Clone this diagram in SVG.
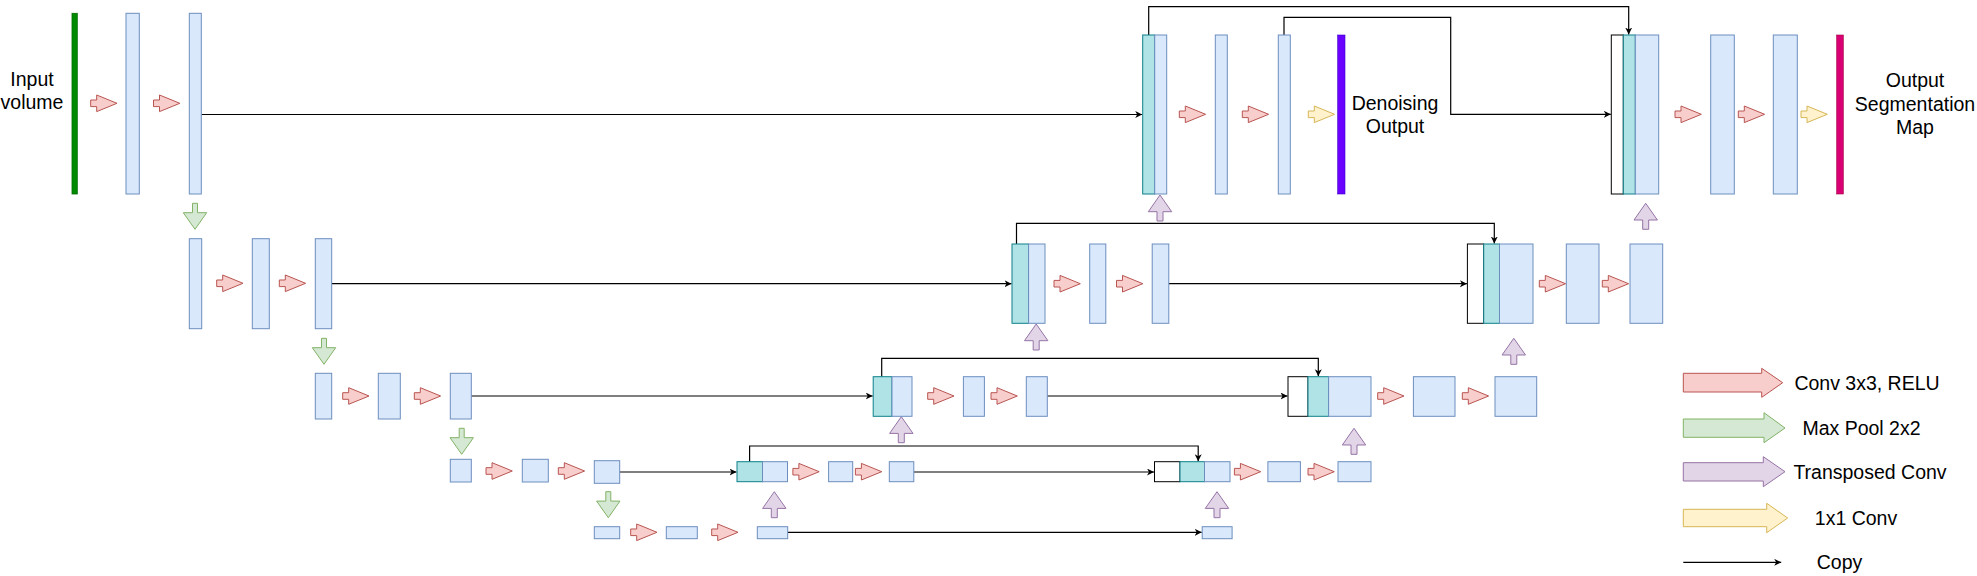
<svg xmlns="http://www.w3.org/2000/svg" xmlns:xlink="http://www.w3.org/1999/xlink" width="1977" height="576" viewBox="0 0 1977 576">
<style>
.b{fill:#dae8fc;stroke:#6c8ebf;stroke-width:1}
.t{fill:#b0e3e6;stroke:#0e8088;stroke-width:1}
.w{fill:#ffffff;stroke:#000000;stroke-width:1}
.r{fill:#f8cecc;stroke:#b85450;stroke-width:1}
.g{fill:#d5e8d4;stroke:#82b366;stroke-width:1}
.p{fill:#e1d5e7;stroke:#9673a6;stroke-width:1}
.y{fill:#fff2cc;stroke:#d6b656;stroke-width:1}
.c{fill:none;stroke:#000000;stroke-width:1.2;marker-end:url(#ah)}
text{font-family:"Liberation Sans",Arial,Helvetica,sans-serif;font-size:19.5px;fill:#000000;text-anchor:middle}
</style>
<defs>
<marker id="ah" markerUnits="userSpaceOnUse" markerWidth="10" markerHeight="10" refX="7" refY="3.5" orient="auto">
<path d="M0,0 L7,3.5 L0,7 L2,3.5 Z" fill="#000000"/>
</marker>
<path id="ra" class="r" d="M0,-3.3 H6 V-8.3 L26.3,0 L6,8.3 V3.3 H0 Z"/>
<path id="ya" class="y" d="M0,-3.3 H6 V-8.3 L26.3,0 L6,8.3 V3.3 H0 Z"/>
<path id="gd" class="g" d="M-2.5,0 H2.5 V9.4 H11.7 L0,26 L-11.7,9.4 H-2.5 Z"/>
<path id="pu" class="p" d="M0,0 L11.7,16.7 H3 V26 H-3 V16.7 H-11.7 Z"/>
</defs>
<rect width="1977" height="576" fill="#ffffff"/>

<g id="connectors">
<path class="c" d="M201.3,114.5 H1142.2"/>
<path class="c" d="M1148.7,35 V6.7 H1628.7 V34.5"/>
<path class="c" d="M1284,35 V17.3 H1450.7 V114.3 H1610.8"/>
<path class="c" d="M331.7,283.7 H1011.5"/>
<path class="c" d="M1016.5,244 V223.3 H1494.3 V243.5"/>
<path class="c" d="M1168.8,283.7 H1466.9"/>
<path class="c" d="M471.3,396 H872.7"/>
<path class="c" d="M881.7,376.7 V358.3 H1318.3 V376.2"/>
<path class="c" d="M1047.3,396 H1287.5"/>
<path class="c" d="M619.7,472 H736.5"/>
<path class="c" d="M749.6,461.7 V446 H1198.2 V461.2"/>
<path class="c" d="M913.8,472 H1154"/>
<path class="c" d="M787.7,532.3 H1201.7"/>
</g>

<g id="input">
<rect x="72" y="13.3" width="5.3" height="180.7" fill="#008a00" stroke="#006b00" stroke-width="0.8"/>
<text x="32" y="86.3">Input</text>
<text x="32" y="108.7">volume</text>
</g>

<g id="level1-encoder">
<rect class="b" x="126" y="13.3" width="13.3" height="180.7"/>
<rect class="b" x="189.3" y="13.3" width="12" height="180.7"/>
<use href="#ra" x="90.7" y="103.3"/>
<use href="#ra" x="153.5" y="103.3"/>
<use href="#gd" x="195" y="203.3"/>
</g>

<g id="level2-encoder">
<rect class="b" x="189.3" y="238.7" width="12.4" height="90"/>
<rect class="b" x="252.3" y="238.7" width="17" height="90"/>
<rect class="b" x="315.3" y="238.7" width="16.4" height="90"/>
<use href="#ra" x="216.7" y="283.3"/>
<use href="#ra" x="279.3" y="283.3"/>
<use href="#gd" x="324" y="338.3"/>
</g>

<g id="level3-encoder">
<rect class="b" x="315.3" y="373.3" width="16.4" height="45.7"/>
<rect class="b" x="378.3" y="373.3" width="22" height="45.7"/>
<rect class="b" x="450.3" y="373.3" width="21" height="45.7"/>
<use href="#ra" x="342.7" y="396"/>
<use href="#ra" x="414.3" y="396"/>
<use href="#gd" x="461.7" y="428.3"/>
</g>

<g id="level4-encoder">
<rect class="b" x="450.3" y="459.3" width="21" height="22.7"/>
<rect class="b" x="522.3" y="459.3" width="26" height="22.7"/>
<rect class="b" x="594.3" y="460.7" width="25.4" height="22.6"/>
<use href="#ra" x="486" y="471"/>
<use href="#ra" x="558.3" y="471"/>
<use href="#gd" x="608.3" y="491.7"/>
</g>

<g id="level5-bottleneck">
<rect class="b" x="594.3" y="526.7" width="25.4" height="12"/>
<rect class="b" x="666.3" y="526.7" width="31" height="12"/>
<rect class="b" x="757.3" y="526.7" width="30.4" height="12"/>
<rect class="b" x="1202.2" y="526.7" width="29.9" height="12"/>
<use href="#ra" x="630.7" y="532.3"/>
<use href="#ra" x="711.7" y="532.3"/>
<use href="#pu" x="774.3" y="491.7"/>
<use href="#pu" x="1217" y="491.7"/>
</g>

<g id="level4-decoder">
<rect class="t" x="737" y="461.7" width="25.5" height="20"/>
<rect class="b" x="762.5" y="461.7" width="25" height="20"/>
<rect class="b" x="828.6" y="461.7" width="24.1" height="20"/>
<rect class="b" x="889.3" y="461.7" width="24.5" height="20"/>
<use href="#ra" x="792.9" y="471.7"/>
<use href="#ra" x="855.4" y="471.7"/>
<use href="#pu" x="901.3" y="416.7"/>
</g>

<g id="level4-decoder-seg">
<rect class="w" x="1154.5" y="461.7" width="25.5" height="20"/>
<rect class="t" x="1180" y="461.7" width="24.5" height="20"/>
<rect class="b" x="1204.5" y="461.7" width="25.5" height="20"/>
<rect class="b" x="1267.9" y="461.7" width="32.5" height="20"/>
<rect class="b" x="1338" y="461.7" width="33" height="20"/>
<use href="#ra" x="1234.4" y="471.7"/>
<use href="#ra" x="1308" y="471.7"/>
<use href="#pu" x="1354" y="428.3"/>
</g>

<g id="level3-decoder">
<rect class="t" x="873.2" y="376.7" width="18.8" height="39.6"/>
<rect class="b" x="892" y="376.7" width="20" height="39.6"/>
<rect class="b" x="963.4" y="376.7" width="21" height="39.6"/>
<rect class="b" x="1026.3" y="376.7" width="21" height="39.6"/>
<use href="#ra" x="927.7" y="396"/>
<use href="#ra" x="991" y="396"/>
<use href="#pu" x="1036.2" y="324"/>
</g>

<g id="level3-decoder-seg">
<rect class="w" x="1288" y="376.7" width="20" height="39.6"/>
<rect class="t" x="1308" y="376.7" width="20.6" height="39.6"/>
<rect class="b" x="1328.6" y="376.7" width="42.4" height="39.6"/>
<rect class="b" x="1413.4" y="376.7" width="41.6" height="39.6"/>
<rect class="b" x="1495" y="376.7" width="41.7" height="39.6"/>
<use href="#ra" x="1377.7" y="396"/>
<use href="#ra" x="1462.3" y="396"/>
<use href="#pu" x="1513.8" y="338.3"/>
</g>

<g id="level2-decoder">
<rect class="t" x="1012" y="244" width="16.6" height="79.3"/>
<rect class="b" x="1028.6" y="244" width="16.4" height="79.3"/>
<rect class="b" x="1089.7" y="244" width="16.1" height="79.3"/>
<rect class="b" x="1152.2" y="244" width="16.6" height="79.3"/>
<use href="#ra" x="1054" y="283.7"/>
<use href="#ra" x="1116.5" y="283.7"/>
<use href="#pu" x="1160" y="195"/>
</g>

<g id="level2-decoder-seg">
<rect class="w" x="1467.4" y="244" width="16.3" height="79.3"/>
<rect class="t" x="1483.7" y="244" width="15.8" height="79.3"/>
<rect class="b" x="1499.5" y="244" width="33.5" height="79.3"/>
<rect class="b" x="1566.3" y="244" width="32.7" height="79.3"/>
<rect class="b" x="1630" y="244" width="32.7" height="79.3"/>
<use href="#ra" x="1539.3" y="283.7"/>
<use href="#ra" x="1602.3" y="283.7"/>
<use href="#pu" x="1645.7" y="203.3"/>
</g>

<g id="level1-decoder-denoising">
<rect class="t" x="1142.7" y="35" width="12" height="159"/>
<rect class="b" x="1154.7" y="35" width="12" height="159"/>
<rect class="b" x="1215.3" y="35" width="12" height="159"/>
<rect class="b" x="1278.3" y="35" width="12" height="159"/>
<use href="#ra" x="1179.3" y="114.3"/>
<use href="#ra" x="1242.3" y="114.3"/>
<use href="#ya" x="1308.3" y="114.3"/>
</g>

<g id="denoising-output">
<rect x="1337.7" y="35" width="7.3" height="159" fill="#6a00ff" stroke="#3700cc" stroke-width="0.6"/>
<text x="1395" y="110.3">Denoising</text>
<text x="1395" y="133">Output</text>
</g>

<g id="level1-decoder-seg">
<rect class="w" x="1611.3" y="35" width="12" height="159"/>
<rect class="t" x="1623.3" y="35" width="12" height="159"/>
<rect class="b" x="1635.3" y="35" width="23.4" height="159"/>
<rect class="b" x="1710.7" y="35" width="23.6" height="159"/>
<rect class="b" x="1773.3" y="35" width="24" height="159"/>
<use href="#ra" x="1675" y="114.3"/>
<use href="#ra" x="1738.3" y="114.3"/>
<use href="#ya" x="1801" y="114.3"/>
</g>

<g id="segmentation-output">
<rect x="1836.7" y="35" width="6.6" height="159" fill="#d80073" stroke="#a50040" stroke-width="0.6"/>
<text x="1915" y="87">Output</text>
<text x="1915" y="111">Segmentation</text>
<text x="1915" y="133.7">Map</text>
</g>

<g id="legend">
<path class="r" d="M1683.3,373.3 H1761.7 V368.3 L1782.7,382.7 L1761.7,397.3 V392 H1683.3 Z"/>
<text x="1867" y="389.7">Conv 3x3, RELU</text>
<path class="g" d="M1683.3,419 H1764 V412.7 L1785,428 L1764,442.7 V437.3 H1683.3 Z"/>
<text x="1861.5" y="435">Max Pool 2x2</text>
<path class="p" d="M1683.3,462.7 H1763.3 V456.7 L1785,471.7 L1763.3,486.7 V481 H1683.3 Z"/>
<text x="1870" y="478.7">Transposed Conv</text>
<path class="y" d="M1683.3,509.3 H1766.7 V503.3 L1787.7,518 L1766.7,532.7 V526.7 H1683.3 Z"/>
<text x="1856" y="525">1x1 Conv</text>
<path class="c" d="M1683.3,562.3 H1781.2"/>
<text x="1839.5" y="569.3">Copy</text>
</g>
</svg>
